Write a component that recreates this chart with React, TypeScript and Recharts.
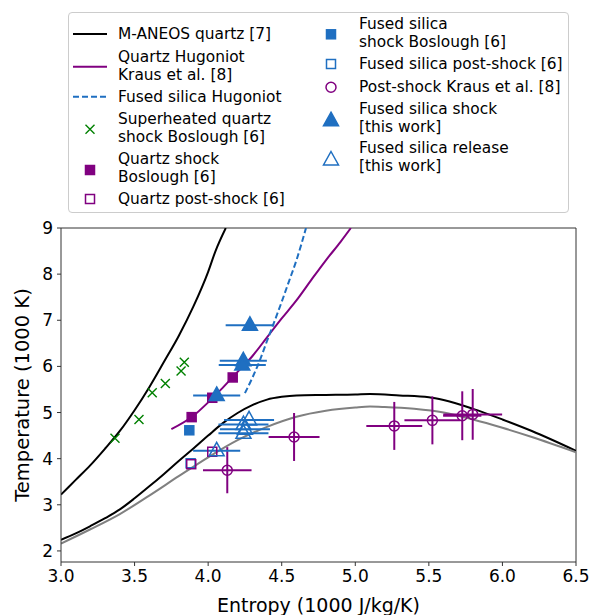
import React from "react";
import { ComposedChart, Line, Scatter, XAxis, YAxis, ErrorBar, ReferenceLine, Label } from "recharts";

const BLUE = "#1f6fc1";
const PURPLE = "#800080";
const GREEN = "#008000";
const FONT = "DejaVu Sans, sans-serif";

// M-ANEOS quartz, two branches
const aneosUpper = [
  { x: 3.0, y: 3.22 }, { x: 3.1, y: 3.54 }, { x: 3.2, y: 3.86 }, { x: 3.3, y: 4.22 },
  { x: 3.4, y: 4.6 }, { x: 3.5, y: 5.05 }, { x: 3.6, y: 5.55 }, { x: 3.7, y: 6.1 },
  { x: 3.8, y: 6.66 }, { x: 3.9, y: 7.3 }, { x: 4.0, y: 8.05 }, { x: 4.05, y: 8.5 },
  { x: 4.12, y: 9.0 },
];
const aneosLower = [
  { x: 3.0, y: 2.24 }, { x: 3.1, y: 2.38 }, { x: 3.2, y: 2.54 }, { x: 3.3, y: 2.71 },
  { x: 3.4, y: 2.9 }, { x: 3.5, y: 3.14 }, { x: 3.6, y: 3.4 }, { x: 3.7, y: 3.67 },
  { x: 3.8, y: 3.95 }, { x: 3.9, y: 4.22 }, { x: 4.0, y: 4.5 }, { x: 4.1, y: 4.77 },
  { x: 4.2, y: 4.99 }, { x: 4.3, y: 5.16 }, { x: 4.4, y: 5.28 }, { x: 4.5, y: 5.34 },
  { x: 4.6, y: 5.37 }, { x: 4.8, y: 5.38 }, { x: 5.0, y: 5.39 }, { x: 5.1, y: 5.4 },
  { x: 5.3, y: 5.37 }, { x: 5.5, y: 5.33 }, { x: 5.6, y: 5.27 }, { x: 5.8, y: 5.08 },
  { x: 6.0, y: 4.85 }, { x: 6.2, y: 4.6 }, { x: 6.5, y: 4.17 },
];
// unlabelled grey curve
const greyCurve = [
  { x: 3.0, y: 2.16 }, { x: 3.2, y: 2.47 }, { x: 3.4, y: 2.8 }, { x: 3.6, y: 3.2 },
  { x: 3.8, y: 3.62 }, { x: 4.0, y: 4.03 }, { x: 4.2, y: 4.4 }, { x: 4.4, y: 4.69 },
  { x: 4.6, y: 4.91 }, { x: 4.8, y: 5.04 }, { x: 5.0, y: 5.11 }, { x: 5.1, y: 5.13 },
  { x: 5.2, y: 5.12 }, { x: 5.4, y: 5.08 }, { x: 5.6, y: 5.0 }, { x: 5.8, y: 4.85 },
  { x: 6.0, y: 4.67 }, { x: 6.2, y: 4.47 }, { x: 6.5, y: 4.14 },
];
const quartzHugoniot = [
  { x: 3.75, y: 4.64 }, { x: 3.9, y: 4.93 }, { x: 4.0, y: 5.22 }, { x: 4.1, y: 5.54 },
  { x: 4.2, y: 5.88 }, { x: 4.3, y: 6.22 }, { x: 4.4, y: 6.63 }, { x: 4.5, y: 7.04 },
  { x: 4.6, y: 7.43 }, { x: 4.7, y: 7.87 }, { x: 4.8, y: 8.3 }, { x: 4.9, y: 8.7 },
  { x: 4.97, y: 9.0 },
];
const fusedHugoniot = [
  { x: 4.25, y: 5.42 }, { x: 4.3, y: 5.75 }, { x: 4.35, y: 6.12 }, { x: 4.4, y: 6.55 },
  { x: 4.45, y: 6.97 }, { x: 4.5, y: 7.4 }, { x: 4.55, y: 7.85 }, { x: 4.6, y: 8.3 },
  { x: 4.665, y: 9.0 },
];

const superheated = [
  { x: 3.367, y: 4.44 }, { x: 3.53, y: 4.85 }, { x: 3.62, y: 5.43 },
  { x: 3.709, y: 5.63 }, { x: 3.816, y: 5.9 }, { x: 3.838, y: 6.09 },
];
const quartzShock = [{ x: 3.888, y: 4.9 }, { x: 4.028, y: 5.32 }, { x: 4.167, y: 5.76 }];
const quartzPost = [{ x: 3.885, y: 3.88 }, { x: 4.028, y: 4.15 }];
const fusedShockBos = [{ x: 3.872, y: 4.615 }];
const fusedPostBos = [{ x: 3.881, y: 3.9 }];
const krausPost = [
  { x: 4.13, y: 3.75, xe: 0.165, ye: 0.5 },
  { x: 4.584, y: 4.47, xe: 0.173, ye: 0.52 },
  { x: 5.265, y: 4.71, xe: 0.19, ye: 0.52 },
  { x: 5.524, y: 4.83, xe: 0.19, ye: 0.52 },
  { x: 5.727, y: 4.93, xe: 0.13, ye: 0.53 },
  { x: 5.798, y: 4.96, xe: 0.2, ye: 0.55 },
];
const fusedShockWork = [
  { x: 4.284, y: 6.89, xe: 0.165 },
  { x: 4.239, y: 6.12, xe: 0.16 },
  { x: 4.232, y: 6.03, xe: 0.16 },
  { x: 4.058, y: 5.37, xe: 0.16 },
];
const fusedReleaseWork = [
  { x: 4.278, y: 4.84, xe: 0.17 },
  { x: 4.24, y: 4.74, xe: 0.17 },
  { x: 4.25, y: 4.64, xe: 0.17 },
  { x: 4.24, y: 4.55, xe: 0.17 },
  { x: 4.058, y: 4.17, xe: 0.16 },
];

const xTicks = [3.0, 3.5, 4.0, 4.5, 5.0, 5.5, 6.0, 6.5];
const yTicks = [2, 3, 4, 5, 6, 7, 8, 9];

const sq = (fill: string, stroke: string) => (p: any) =>
  <rect x={p.cx - 4.5} y={p.cy - 4.5} width={9} height={9} fill={fill} stroke={stroke} strokeWidth={1.5} />;
const tri = (fill: string) => (p: any) =>
  <path d={`M${p.cx},${p.cy - 8.5} L${p.cx + 7.5},${p.cy + 5} L${p.cx - 7.5},${p.cy + 5} Z`}
    fill={fill} stroke={BLUE} strokeWidth={1.5} strokeLinejoin="miter" />;
const circ = (p: any) => <circle cx={p.cx} cy={p.cy} r={5} fill="none" stroke={PURPLE} strokeWidth={1.5} />;
const xMark = (p: any) => (
  <path d={`M${p.cx - 4.5},${p.cy - 4.5} L${p.cx + 4.5},${p.cy + 4.5} M${p.cx - 4.5},${p.cy + 4.5} L${p.cx + 4.5},${p.cy - 4.5}`}
    stroke={GREEN} strokeWidth={1.4} fill="none" />
);

type Item = { kind: string; lines: string[]; iy: number; ty: number[] };
const legendLeft: Item[] = [
  { kind: "black", lines: ["M-ANEOS quartz [7]"], iy: 22, ty: [22] },
  { kind: "purpleLine", lines: ["Quartz Hugoniot", "Kraus et al. [8]"], iy: 54.7, ty: [45.3, 63] },
  { kind: "dash", lines: ["Fused silica Hugoniot"], iy: 84.7, ty: [84.7] },
  { kind: "x", lines: ["Superheated quartz", "shock Boslough [6]"], iy: 117.3, ty: [107, 124.7] },
  { kind: "psq", lines: ["Quartz shock", "Boslough [6]"], iy: 158, ty: [147.3, 164.7] },
  { kind: "posq", lines: ["Quartz post-shock [6]"], iy: 187, ty: [187] },
];
const legendRight: Item[] = [
  { kind: "bsq", lines: ["Fused silica", "shock Boslough [6]"], iy: 22.3, ty: [12.3, 29.7] },
  { kind: "bosq", lines: ["Fused silica post-shock [6]"], iy: 52, ty: [52] },
  { kind: "circ", lines: ["Post-shock Kraus et al. [8]"], iy: 75.3, ty: [74.7] },
  { kind: "tri", lines: ["Fused silica shock", "[this work]"], iy: 108.7, ty: [97.3, 114.7] },
  { kind: "otri", lines: ["Fused silica release", "[this work]"], iy: 148, ty: [136.3, 153.7] },
];

function Icon({ kind, cx, cy }: { kind: string; cx: number; cy: number }) {
  const p = { cx, cy };
  switch (kind) {
    case "black": return <line x1={cx - 17} x2={cx + 17} y1={cy} y2={cy} stroke="#000" strokeWidth={2} />;
    case "purpleLine": return <line x1={cx - 17} x2={cx + 17} y1={cy} y2={cy} stroke={PURPLE} strokeWidth={2} />;
    case "dash": return <line x1={cx - 17} x2={cx + 17} y1={cy} y2={cy} stroke={BLUE} strokeWidth={2} strokeDasharray="6 3" />;
    case "x": return xMark(p);
    case "psq": return sq(PURPLE, PURPLE)(p);
    case "posq": return sq("none", PURPLE)(p);
    case "bsq": return sq(BLUE, BLUE)(p);
    case "bosq": return sq("none", BLUE)(p);
    case "circ": return circ(p);
    case "tri": return tri(BLUE)(p);
    default: return tri("none")(p);
  }
}

function LegendBox() {
  const col = (items: Item[], ix: number, tx: number) =>
    items.map((it, i) => (
      <g key={i}>
        <Icon kind={it.kind} cx={ix} cy={it.iy} />
        {it.lines.map((l, j) => (
          <text key={j} x={tx} y={it.ty[j]} dominantBaseline="central" fontSize={15.4} fontFamily={FONT} fill="#000">{l}</text>
        ))}
      </g>
    ));
  return (
    <div style={{ position: "absolute", left: 68, top: 12, width: 501, height: 201, border: "1px solid #cccccc", borderRadius: 4, background: "#fff", boxSizing: "border-box" }}>
      <svg width={501} height={201} style={{ position: "absolute", left: -1, top: -1 }}>
        {col(legendLeft, 22, 50)}
        {col(legendRight, 263, 291)}
      </svg>
    </div>
  );
}

export default function App() {
  const tickStyle = { fontSize: 17, fontFamily: FONT, fill: "#000" };
  return (
    <div style={{ position: "absolute", left: 0, top: 0, width: 592, height: 615, background: "#fff" }}>
      <ComposedChart width={592} height={615} margin={{ top: 228, right: 16, bottom: 0, left: 0 }}>
        <XAxis dataKey="x" type="number" domain={[3, 6.5]} ticks={xTicks} allowDataOverflow
          tickFormatter={(v: number) => v.toFixed(1)} height={53} tickSize={4} tickMargin={4}
          stroke="#333" tick={tickStyle}>
          <Label content={({ viewBox }: any) => (
            <text x={viewBox.x + viewBox.width / 2} y={viewBox.y + 43} textAnchor="middle" dominantBaseline="central"
              fontSize={19} fontFamily={FONT} fill="#000">Entropy (1000 J/kg/K)</text>
          )} />
        </XAxis>
        <YAxis type="number" domain={[1.76, 9]} ticks={yTicks} allowDataOverflow width={61}
          tickSize={4} tickMargin={4} stroke="#333" tick={tickStyle}>
          <Label content={({ viewBox }: any) => {
            const cx = 22, cy = viewBox.y + viewBox.height / 2;
            return (
              <text x={cx} y={cy} transform={`rotate(-90 ${cx} ${cy})`} textAnchor="middle" dominantBaseline="central"
                fontSize={19.5} fontFamily={FONT} fill="#000">Temperature (1000 K)</text>
            );
          }} />
        </YAxis>
        <ReferenceLine y={9} stroke="#333" strokeWidth={1} />
        <ReferenceLine x={6.5} stroke="#333" strokeWidth={1} />

        <Line data={aneosUpper} dataKey="y" type="monotone" stroke="#000" strokeWidth={2} dot={false} isAnimationActive={false} />
        <Line data={aneosLower} dataKey="y" type="monotone" stroke="#000" strokeWidth={2} dot={false} isAnimationActive={false} />
        <Line data={greyCurve} dataKey="y" type="monotone" stroke="#808080" strokeWidth={2} dot={false} isAnimationActive={false} />
        <Line data={quartzHugoniot} dataKey="y" type="monotone" stroke={PURPLE} strokeWidth={2} dot={false} isAnimationActive={false} />
        <Line data={fusedHugoniot} dataKey="y" type="monotone" stroke={BLUE} strokeWidth={2} strokeDasharray="6 3" dot={false} isAnimationActive={false} />

        <Scatter data={superheated} dataKey="y" shape={xMark} isAnimationActive={false} />
        <Scatter data={quartzShock} dataKey="y" shape={sq(PURPLE, PURPLE)} isAnimationActive={false} />
        <Scatter data={fusedShockBos} dataKey="y" shape={sq(BLUE, BLUE)} isAnimationActive={false} />
        <Scatter data={fusedPostBos} dataKey="y" shape={sq("none", BLUE)} isAnimationActive={false} />
        <Scatter data={quartzPost} dataKey="y" shape={sq("none", PURPLE)} isAnimationActive={false} />
        <Scatter data={krausPost} dataKey="y" shape={circ} isAnimationActive={false}>
          <ErrorBar dataKey="xe" direction="x" width={0} stroke={PURPLE} strokeWidth={2} />
          <ErrorBar dataKey="ye" direction="y" width={0} stroke={PURPLE} strokeWidth={2} />
        </Scatter>
        <Scatter data={fusedReleaseWork} dataKey="y" shape={tri("none")} isAnimationActive={false}>
          <ErrorBar dataKey="xe" direction="x" width={0} stroke={BLUE} strokeWidth={2} />
        </Scatter>
        <Scatter data={fusedShockWork} dataKey="y" shape={tri(BLUE)} isAnimationActive={false}>
          <ErrorBar dataKey="xe" direction="x" width={0} stroke={BLUE} strokeWidth={2} />
        </Scatter>
      </ComposedChart>
      <LegendBox />
    </div>
  );
}
